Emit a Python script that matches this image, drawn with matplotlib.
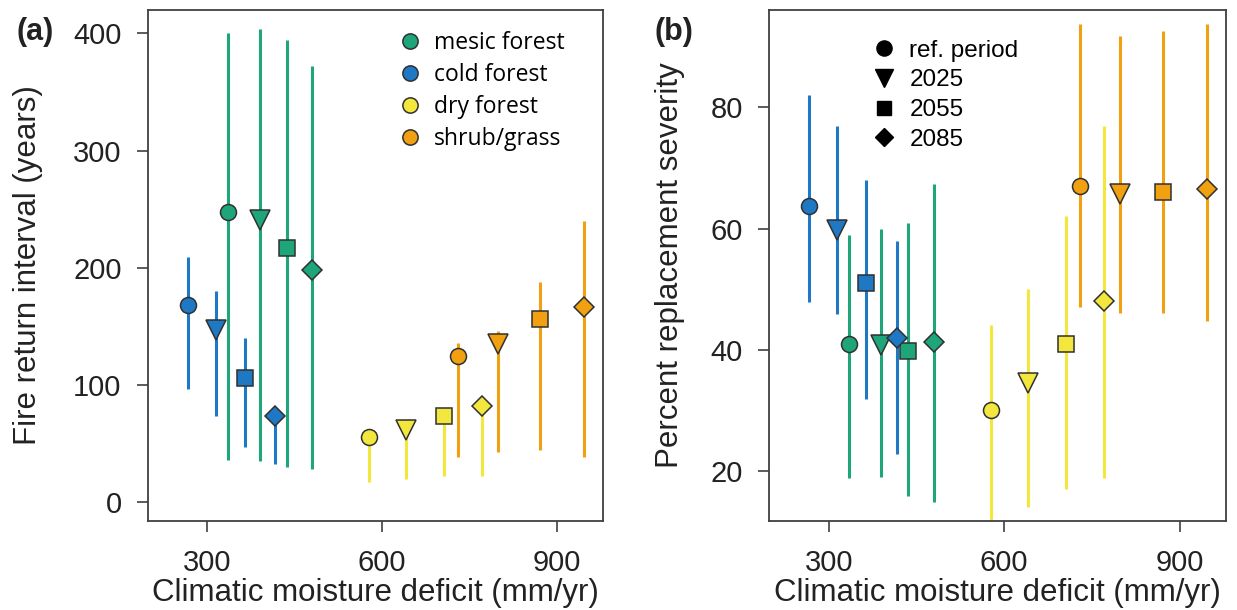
import numpy as np
import matplotlib
matplotlib.use("Agg")
import matplotlib.pyplot as plt
from matplotlib.lines import Line2D

plt.rcParams['font.family'] = ['Liberation Sans', 'DejaVu Sans']

# Climatic moisture deficit per group: ref. period, 2025, 2055, 2085
groups = ["mesic forest", "cold forest", "dry forest", "shrub/grass"]
colors = ["#1fa57a", "#1f78c4", "#f3e73e", "#f0a010"]
periods = ["ref. period", "2025", "2055", "2085"]
markers = ["o", "v", "s", "D"]
msizes = {"o": 11.5, "v": 14, "s": 11, "D": 10}

cmd_mesic = [335, 390, 436, 480]
cmd_cold = [267, 315, 364, 416]
cmd_dry = [578, 640, 706, 771]
cmd_shrub = [730, 798, 871, 946]

# (a) fire return interval (years): mean, low, high
fri_mesic = [248, 241, 217, 198]
fri_mesic_lo = [36, 35, 30, 28]
fri_mesic_hi = [400, 404, 394, 372]
fri_cold = [168, 147, 106, 74]
fri_cold_lo = [97, 74, 47, 33]
fri_cold_hi = [209, 180, 140, 80]
fri_dry = [56, 62, 74, 82]
fri_dry_lo = [17, 20, 22, 22]
fri_dry_hi = [60, 66, 78, 86]
fri_shrub = [125, 135, 156, 167]
fri_shrub_lo = [39, 43, 45, 39]
fri_shrub_hi = [136, 146, 188, 240]

# (b) percent replacement severity: mean, low, high
sev_mesic = [41.0, 40.8, 39.8, 41.2]
sev_mesic_lo = [18.8, 18.9, 15.9, 14.8]
sev_mesic_hi = [59, 60, 61, 67.3]
sev_cold = [63.7, 59.8, 51.0, 41.9]
sev_cold_lo = [47.8, 45.9, 31.9, 22.7]
sev_cold_hi = [82.1, 77, 68, 58]
sev_dry = [30.1, 34.5, 41.0, 48.0]
sev_dry_lo = [10, 14, 17, 18.8]
sev_dry_hi = [44, 50, 62, 77]
sev_shrub = [67.0, 65.7, 66.0, 66.6]
sev_shrub_lo = [47, 46, 46, 44.8]
sev_shrub_hi = [93.8, 91.8, 92.6, 93.8]

cmd = [cmd_mesic, cmd_cold, cmd_dry, cmd_shrub]
fri = [(fri_mesic, fri_mesic_lo, fri_mesic_hi), (fri_cold, fri_cold_lo, fri_cold_hi),
       (fri_dry, fri_dry_lo, fri_dry_hi), (fri_shrub, fri_shrub_lo, fri_shrub_hi)]
sev = [(sev_mesic, sev_mesic_lo, sev_mesic_hi), (sev_cold, sev_cold_lo, sev_cold_hi),
       (sev_dry, sev_dry_lo, sev_dry_hi), (sev_shrub, sev_shrub_lo, sev_shrub_hi)]

fig = plt.figure(figsize=(12.37, 6.10), dpi=100)
ax_a = fig.add_axes([0.1196, 0.1459, 0.3679, 0.8377])
ax_b = fig.add_axes([0.6217, 0.1459, 0.3694, 0.8377])


def draw(ax, data):
    for g in range(len(groups)):
        mean, lo, hi = data[g]
        for i in range(4):
            ax.vlines(cmd[g][i], lo[i], hi[i], color=colors[g], lw=2.2, zorder=2)
            ax.plot(cmd[g][i], mean[i], marker=markers[i], ms=msizes[markers[i]],
                    color=colors[g], mec="#303030", mew=1.1, ls="none", zorder=3)


def style(ax):
    ax.set_xlim(198, 979)
    ax.set_xticks([300, 600, 900])
    for s in ax.spines.values():
        s.set_color("#404040")
        s.set_linewidth(1.3)
    ax.tick_params(labelsize=21, length=8, width=1.2, color="#404040",
                   labelcolor="#222222")
    ax.tick_params(axis="y", pad=11)
    ax.tick_params(axis="x", pad=12)
    ax.set_xlabel("Climatic moisture deficit (mm/yr)", fontsize=22.5,
                  color="#222222", labelpad=1)


draw(ax_a, fri)
style(ax_a)
ax_a.set_ylim(-16, 420)
ax_a.set_yticks([0, 100, 200, 300, 400])
ax_a.set_ylabel("Fire return interval (years)", fontsize=22.5, color="#222222", labelpad=22)
handles_a = [Line2D([], [], marker="o", ls="none", ms=11, color=c, mec="#303030", mew=1.1)
             for c in colors]
ax_a.legend(handles_a, groups, loc="upper left", bbox_to_anchor=(0.48, 1.0), frameon=False,
            handletextpad=0.05, labelspacing=0.35, prop={"family": "Open Sans", "size": 16.5})
fig.text(0.013, 0.948, "(a)", fontsize=22, fontweight="bold", color="#222222", va="center")

draw(ax_b, sev)
style(ax_b)
ax_b.set_ylim(11.7, 96.1)
ax_b.set_yticks([20, 40, 60, 80])
ax_b.set_ylabel("Percent replacement severity", fontsize=22.5, color="#222222", labelpad=18)
handles_b = [Line2D([], [], marker=m, ls="none", ms=msizes[m] * 0.95, color="black")
             for m in markers]
ax_b.legend(handles_b, periods, loc="upper left", bbox_to_anchor=(0.15, 0.985),
            frameon=False, fontsize=17.5, handletextpad=0.05, labelspacing=0.32)
fig.text(0.529, 0.948, "(b)", fontsize=22, fontweight="bold", color="#222222", va="center")

fig.savefig("out.png", dpi=100)
